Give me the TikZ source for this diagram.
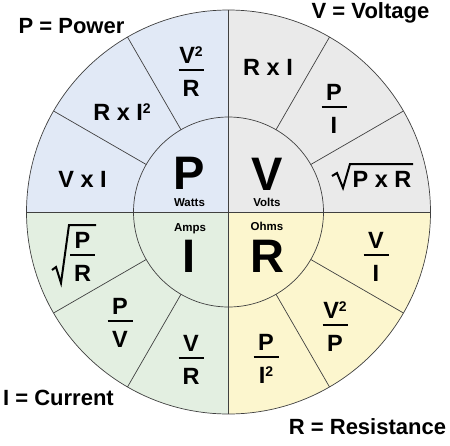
\documentclass[tikz,border=0pt]{standalone}
\usepackage{fontspec}
\setmainfont{Liberation Sans}
\usetikzlibrary{calc}
\definecolor{powblue}{RGB}{225,233,246}
\definecolor{voltgray}{RGB}{234,234,234}
\definecolor{ampgreen}{RGB}{227,239,225}
\definecolor{ohmyellow}{RGB}{252,246,206}
\newcommand{\sq}{\raisebox{7pt}{\fontsize{14}{14}\selectfont 2}}
\tikzset{
  edge/.style={draw=black!75, line width=0.7pt},
  title/.style={font=\fontsize{22}{24}\selectfont\bfseries, inner sep=0pt, anchor=base},
  lbl/.style={font=\fontsize{23.5}{26}\selectfont\bfseries, inner sep=0pt, anchor=base},
  big/.style={font=\fontsize{47}{50}\selectfont\bfseries, inner sep=0pt, anchor=base},
  unit/.style={font=\fontsize{11.5}{13}\selectfont\bfseries, inner sep=0pt, anchor=base},
  fbar/.style={line width=2.8pt},
  root/.style={line width=2pt, line join=miter},
}

\begin{document}
\begin{tikzpicture}[x=1pt,y=1pt,yscale=-1,xscale=1]
\path (0,0) rectangle (450,445); %diagram is 450 wide, 445 high
\coordinate (C) at (228.5,212);

%Quadrants
\foreach \a/\col in {180/powblue, 270/voltgray, 90/ampgreen, 0/ohmyellow}
  \fill[\col] (C) -- ($(C)+(\a:202)$) arc[start angle=\a, delta angle=90, radius=202] -- cycle;
%Circles
\draw[edge] (C) circle[radius=202];
\draw[edge] (C) circle[radius=95];
%Straight Lines
\draw[edge] ($(C)+(180:202)$) -- ($(C)+(0:202)$);
\draw[edge] ($(C)+(90:202)$) -- ($(C)+(270:202)$);
\foreach \a in {30,60,120,150,210,240,300,330}
  \draw[edge] ($(C)+(\a:95)$) -- ($(C)+(\a:202)$);

% Text Node
\node[title] (tpow) at (71.5,33) {P = Power};
\node[title] (tvolt) at (370.5,18) {V = Voltage};
\node[title] (tcur) at (58.5,405) {I = Current};
\node[title] (tres) at (367.5,434) {R = Resistance};

% Text Node
\node[big] (bigP) at (189.5,189) {P};
\node[unit] (watts) at (189.5,206) {Watts};
\node[big] (bigV) at (267,190) {V};
\node[unit] (volts) at (267,206) {Volts};
\node[unit] (amps) at (190,231) {Amps};
\node[big] (bigI) at (189,272) {I};
\node[unit] (ohms) at (267,230) {Ohms};
\node[big] (bigR) at (267,272) {R};

% Text Node
\node[lbl] (vxi) at (82.5,187) {V x I};
\node[lbl] (rxii) at (122,120) {R x I\sq};
\node[lbl] (rxi) at (268,75) {R x I};
\node[lbl] (pxr) at (382,187) {P x R};
\draw[root] (332,176) -- (337,173) -- (343,188) -- (350,164) -- (413,164);

%Fractions
\foreach \nm/\x/\y/\nu/\de in {vr/191/70/V\sq/R, pi/334/107/P/I, pr/82.5/255/P/R,
    pv/120/321/P/V, vrr/191/358/V/R, vi/376/255/V/I, vp/335/325/V\sq/P,
    pii/266/357/P/I\sq}{
  \node[lbl] (\nm num) at (\x,\y-6.5) {\nu};
  \draw[fbar] (\x-12.5,\y) -- (\x+12.5,\y);
  \node[lbl] (\nm den) at (\x,\y+26) {\de};
}
\draw[root] (52,270) -- (56,267) -- (61,283) -- (69,225) -- (96,225);

\end{tikzpicture}
\end{document}
